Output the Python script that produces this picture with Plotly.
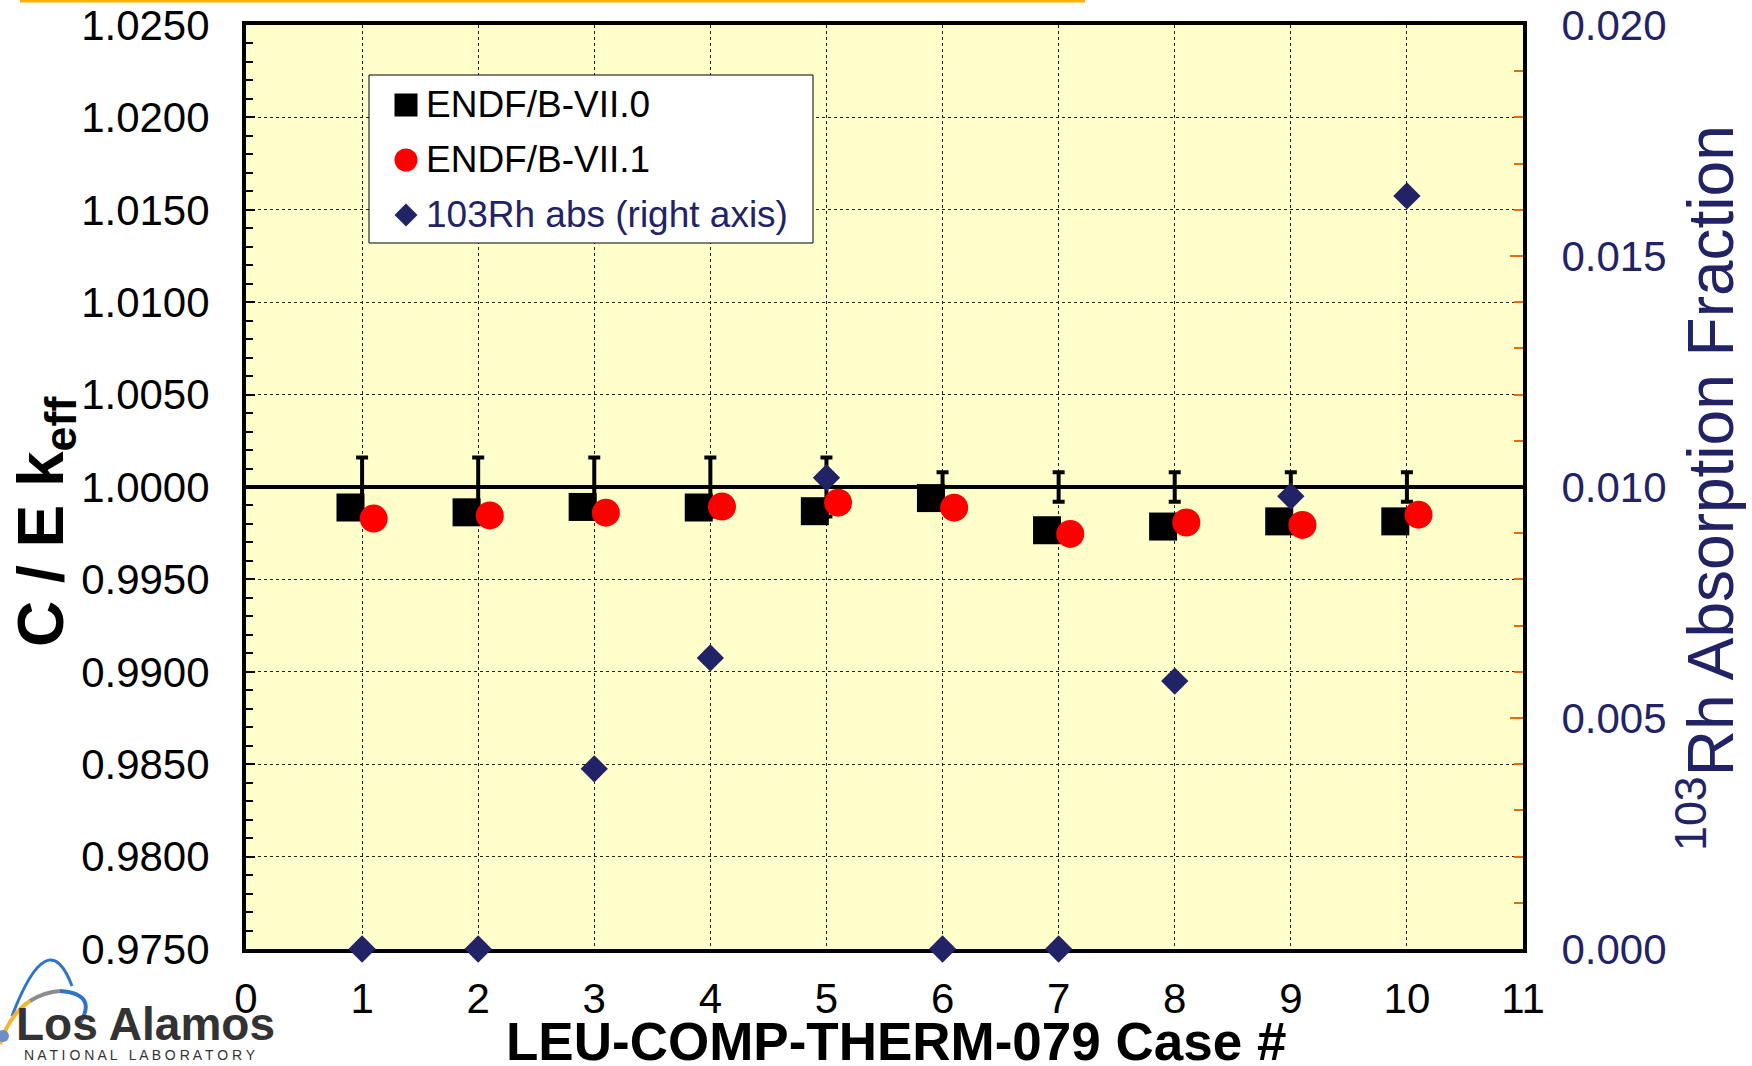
import plotly.graph_objects as go

# ---- data -------------------------------------------------------------
CASES = [1, 2, 3, 4, 5, 6, 7, 8, 9, 10]
CE_ENDF_VII0 = [0.99889, 0.99863, 0.99892, 0.99889, 0.99869,
                0.99940, 0.99766, 0.99786, 0.99814, 0.99814]
CE_ENDF_VII1 = [0.99829, 0.99846, 0.99861, 0.99894, 0.99915,
                0.99888, 0.99746, 0.99808, 0.99795, 0.99850]
RH103_ABS_FRACTION = [0.0, 0.0, 0.0039, 0.0063, 0.0102,
                      0.0, 0.0, 0.0058, 0.0098, 0.0163]
BENCHMARK_KEFF = [1.0, 1.0, 1.0, 1.0, 1.0, 1.0, 1.0, 1.0, 1.0, 1.0]
BENCHMARK_UNC = [0.0016, 0.0016, 0.0016, 0.0016, 0.0016,
                 0.0008, 0.0008, 0.0008, 0.0008, 0.0008]
UNITY = 1.0
X_RANGE = [0, 11]
Y_RANGE = [0.975, 1.025]
Y2_RANGE = [0.0, 0.020]

SERIES_NAMES = ["ENDF/B-VII.0", "ENDF/B-VII.1", "103Rh abs (right axis)"]
X_TITLE = "LEU-COMP-THERM-079 Case #"

# ---- styling ----------------------------------------------------------
W, H = 1752, 1066
ML, MR, MT, MB = 246, 229, 25, 117
PW, PH = W - ML - MR, H - MT - MB
FONT = "Liberation Sans, Arial, sans-serif"
NAVY = "#222266"
ORANGE = "#E46C0A"
SHIFT = 0.1  # side-by-side offset of the two library results


def px_x(p):
    return (p - ML) / PW


def px_y(p):
    return (H - MB - p) / PH


fig = go.Figure()

# unity reference line across the whole case axis
fig.add_trace(go.Scatter(
    x=X_RANGE, y=[UNITY, UNITY], mode="lines",
    line=dict(color="black", width=4), showlegend=False, hoverinfo="skip"))

# benchmark uncertainty bars
fig.add_trace(go.Scatter(
    x=CASES, y=BENCHMARK_KEFF, mode="markers",
    marker=dict(size=2, color="rgba(0,0,0,0)"),
    error_y=dict(type="data", array=BENCHMARK_UNC, color="black",
                 thickness=4, width=6),
    showlegend=False, hoverinfo="skip"))

fig.add_trace(go.Scatter(
    x=[c - SHIFT for c in CASES], y=CE_ENDF_VII0, mode="markers",
    name=SERIES_NAMES[0],
    marker=dict(symbol="square", size=28, color="black", line=dict(width=0)),
    showlegend=False))

fig.add_trace(go.Scatter(
    x=[c + SHIFT for c in CASES], y=CE_ENDF_VII1, mode="markers",
    name=SERIES_NAMES[1],
    marker=dict(symbol="circle", size=28, color="#FF0000", line=dict(width=0)),
    showlegend=False))

fig.add_trace(go.Scatter(
    x=CASES, y=RH103_ABS_FRACTION, mode="markers", yaxis="y2",
    name=SERIES_NAMES[2], cliponaxis=False,
    marker=dict(symbol="diamond", size=21, color=NAVY, line=dict(width=0)),
    showlegend=False))

tickfont = dict(family=FONT, size=42, color="black")

fig.update_layout(
    width=W, height=H,
    autosize=False,
    margin=dict(l=ML, r=MR, t=MT, b=MB, pad=0, autoexpand=False),
    paper_bgcolor="white",
    plot_bgcolor="#FFFFCC",
    showlegend=False,
    xaxis=dict(
        range=X_RANGE, dtick=1, tick0=0, showgrid=True,
        gridcolor="#222222", gridwidth=1, griddash="dot",
        zeroline=False, showline=True, linecolor="black", linewidth=4,
        mirror=True, ticks="", tickfont=tickfont, ticklabelstandoff=10,
        automargin=False, layer="below traces"),
    yaxis=dict(
        range=Y_RANGE, dtick=0.005, tick0=0.975, tickformat=".4f",
        showgrid=True, gridcolor="#222222", gridwidth=1, griddash="dot",
        zeroline=False, showline=True, linecolor="black", linewidth=4,
        ticks="inside", ticklen=9, tickwidth=2, tickcolor="black",
        minor=dict(dtick=0.001, ticks="inside", ticklen=7, tickwidth=2,
                   tickcolor="black", showgrid=False),
        tickfont=tickfont, ticklabelstandoff=24, automargin=False,
        layer="below traces"),
    yaxis2=dict(
        range=Y2_RANGE, dtick=0.005, tick0=0, tickformat=".3f",
        overlaying="y", side="right", showgrid=False, zeroline=False,
        showline=True, linecolor="black", linewidth=4,
        ticks="inside", ticklen=13, tickwidth=2, tickcolor=ORANGE,
        minor=dict(dtick=0.001, ticks="inside", ticklen=9, tickwidth=2,
                   tickcolor=ORANGE, showgrid=False),
        tickfont=dict(family=FONT, size=42, color=NAVY),
        ticklabelstandoff=26, automargin=False, layer="below traces"),
)

annotations = []
shapes = []

# axis titles
annotations.append(dict(
    text="<b>" + X_TITLE + "</b>", xref="paper", yref="paper",
    x=px_x(896), y=px_y(1041), xanchor="center", yanchor="middle",
    showarrow=False, font=dict(family=FONT, size=53, color="black")))
annotations.append(dict(
    text="<b>C / E k<sub>eff</sub></b>", xref="paper", yref="paper",
    x=px_x(45), y=px_y(522), xanchor="center", yanchor="middle",
    textangle=-90, showarrow=False,
    font=dict(family=FONT, size=64, color="black")))
annotations.append(dict(
    text="<sup>103</sup>Rh Absorption Fraction", xref="paper", yref="paper",
    x=px_x(1706), y=px_y(488), xanchor="center", yanchor="middle",
    textangle=-90, showarrow=False,
    font=dict(family=FONT, size=64, color=NAVY)))

# legend box
shapes.append(dict(
    type="rect", xref="paper", yref="paper",
    x0=px_x(369), x1=px_x(813), y0=px_y(243), y1=px_y(75),
    fillcolor="white", line=dict(color="black", width=1), layer="above"))

legend_rows = [105, 160, 215]
legend_colors = ["black", "black", NAVY]
mx = px_x(406)
for i, (row, col) in enumerate(zip(legend_rows, legend_colors)):
    my = px_y(row)
    if i == 0:
        shapes.append(dict(type="rect", xref="paper", yref="paper",
                           xsizemode="pixel", ysizemode="pixel",
                           xanchor=mx, yanchor=my, x0=-11.5, x1=11.5,
                           y0=-11.5, y1=11.5, fillcolor="black",
                           line=dict(width=0), layer="above"))
    elif i == 1:
        shapes.append(dict(type="circle", xref="paper", yref="paper",
                           xsizemode="pixel", ysizemode="pixel",
                           xanchor=mx, yanchor=my, x0=-11.5, x1=11.5,
                           y0=-11.5, y1=11.5, fillcolor="#FF0000",
                           line=dict(width=0), layer="above"))
    else:
        shapes.append(dict(type="path", xref="paper", yref="paper",
                           xsizemode="pixel", ysizemode="pixel",
                           xanchor=mx, yanchor=my,
                           path="M -11.5 0 L 0 11.5 L 11.5 0 L 0 -11.5 Z",
                           fillcolor=NAVY, line=dict(width=0), layer="above"))
    annotations.append(dict(
        text=SERIES_NAMES[i], xref="paper", yref="paper",
        x=px_x(424), y=my, xanchor="left", yanchor="middle",
        showarrow=False, font=dict(family=FONT, size=37, color=col)))

# slide accent line along the top edge
shapes.append(dict(
    type="line", xref="paper", yref="paper",
    x0=px_x(20), x1=px_x(1085), y0=px_y(1), y1=px_y(1),
    line=dict(color="#F5B400", width=3)))

# laboratory logo, bottom left
def logo_path(d, color, width):
    return dict(type="path", xref="paper", yref="paper",
                xsizemode="pixel", ysizemode="pixel",
                xanchor=0, yanchor=0, path=d,
                line=dict(color=color, width=width), layer="above")


def P(x, y):
    return f"{x - ML} {H - MB - y}"


shapes.append(logo_path(f"M {P(12, 1016)} Q {P(48, 922)} {P(72, 986)}",
                        "#2E75C6", 3))
shapes.append(logo_path(f"M {P(0, 1044)} Q {P(10, 1014)} {P(30, 1001)}",
                        "#F2B632", 4))
shapes.append(logo_path(f"M {P(30, 1001)} Q {P(44, 992)} {P(60, 991)}",
                        "#8C8C8C", 4))
shapes.append(logo_path(f"M {P(60, 991)} Q {P(100, 994)} {P(78, 1026)}",
                        "#2E75C6", 4))
shapes.append(dict(type="circle", xref="paper", yref="paper",
                   xsizemode="pixel", ysizemode="pixel",
                   xanchor=px_x(3), yanchor=px_y(1036),
                   x0=-6, x1=6, y0=-6, y1=6, fillcolor="#6C8FC7",
                   line=dict(width=0), layer="above"))
annotations.append(dict(
    text="<b>Los Alamos</b>", xref="paper", yref="paper",
    x=px_x(14), y=px_y(1024), xanchor="left", yanchor="middle",
    showarrow=False, font=dict(family=FONT, size=46, color="#333333")))
annotations.append(dict(
    text="N A T I O N A L   L A B O R A T O R Y", xref="paper", yref="paper",
    x=px_x(140), y=px_y(1055), xanchor="center", yanchor="middle",
    showarrow=False, font=dict(family=FONT, size=14, color="#333333")))

fig.update_layout(annotations=annotations, shapes=shapes)

fig.write_html("out.html")
